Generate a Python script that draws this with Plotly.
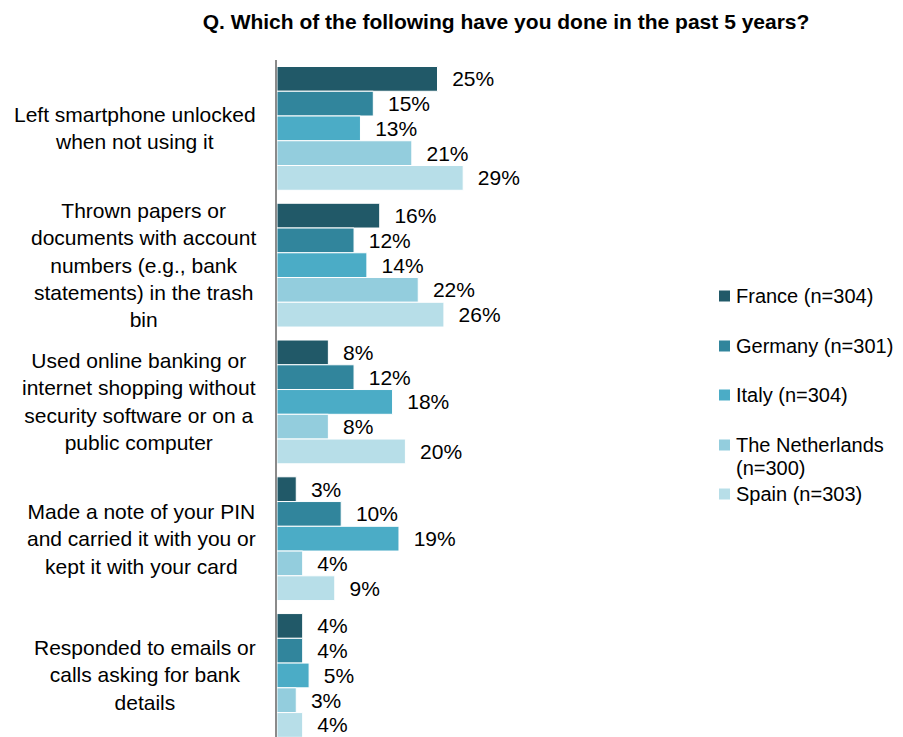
import plotly.graph_objects as go

# Survey items (y categories) and per-country shares in percent
categories = [
    "Left smartphone unlocked<br>when not using it",
    "Thrown papers or<br>documents with account<br>numbers (e.g., bank<br>statements) in the trash<br>bin",
    "Used online banking or<br>internet shopping without<br>security software or on a<br>public computer",
    "Made a note of your PIN<br>and carried it with you or<br>kept it with your card",
    "Responded to emails or<br>calls asking for bank<br>details",
]
series_names = ["France (n=304)", "Germany (n=301)", "Italy (n=304)",
                "The Netherlands (n=300)", "Spain (n=303)"]
legend_lines = [["France (n=304)"], ["Germany (n=301)"], ["Italy (n=304)"],
                ["The Netherlands", "(n=300)"], ["Spain (n=303)"]]
france = [25, 16, 8, 3, 4]
germany = [15, 12, 12, 10, 4]
italy = [13, 14, 18, 19, 5]
netherlands = [21, 22, 8, 4, 3]
spain = [29, 26, 20, 9, 4]
values = [france, germany, italy, netherlands, spain]
colors = ["#215968", "#31859C", "#4BACC6", "#93CDDD", "#B7DEE8"]

FONT = "Liberation Sans, Arial, sans-serif"
W, H = 903, 737
ML, MR, MT, MB = 277, 203, 60, 0
plot_w = W - ML - MR
plot_h = H - MT - MB

fig = go.Figure()
for name, vals, col in zip(series_names, values, colors):
    fig.add_trace(go.Bar(
        y=categories, x=vals, orientation="h", name=name,
        marker=dict(color=col, line=dict(color="white", width=1)),
        text=[f"\u00a0\u00a0{v}%" for v in vals],
        textposition="outside", constraintext="none", cliponaxis=False,
        textfont=dict(family=FONT, size=21, color="#000000"),
        showlegend=False, hoverinfo="x+name",
    ))

annotations = []
# category labels, centred lines, right edge just left of the axis
for cat in categories:
    annotations.append(dict(
        x=0, xref="paper", y=cat, yref="y", xanchor="right", yanchor="middle",
        xshift=-19, align="center", showarrow=False, text=cat,
        font=dict(family=FONT, size=21, color="#000000"),
    ))

# hand-placed legend (px positions converted to paper coordinates)
def px_to_paper_x(px):
    return (px - ML) / plot_w

def px_to_paper_y(py):
    return (H - MB - py) / plot_h

shapes = []
legend_y = [296, 346, 395, 445, 494]
for lines, col, ly in zip(legend_lines, colors, legend_y):
    shapes.append(dict(
        type="rect", xref="paper", yref="paper",
        xsizemode="pixel", ysizemode="pixel",
        xanchor=px_to_paper_x(724.5), yanchor=px_to_paper_y(ly),
        x0=-5.5, x1=5.5, y0=-5.5, y1=5.5,
        fillcolor=col, line=dict(width=0),
    ))
    for i, line in enumerate(lines):
        annotations.append(dict(
            x=px_to_paper_x(734), y=px_to_paper_y(ly + 23 * i),
            xref="paper", yref="paper", xanchor="left", yanchor="middle",
            showarrow=False, text=line,
            font=dict(family=FONT, size=20, color="#000000"),
        ))

fig.update_layout(
    width=W, height=H,
    margin=dict(l=ML, r=MR, t=MT, b=MB, pad=0),
    paper_bgcolor="white", plot_bgcolor="white",
    barmode="group", bargap=0.095, bargroupgap=0,
    title=dict(
        text="<b>Q. Which of the following have you done in the past 5 years?</b>",
        x=506 / W, xanchor="center", y=1 - 22 / H, yanchor="middle",
        xref="container", yref="container",
        font=dict(family=FONT, size=21, color="#000000"),
    ),
    xaxis=dict(range=[0, plot_w / 6.42], visible=False, fixedrange=True),
    yaxis=dict(
        categoryorder="array", categoryarray=categories,
        range=[4.45, -0.5], showticklabels=False, ticks="",
        showgrid=False, zeroline=False,
        showline=True, linecolor="#8a8a8a", linewidth=2,
    ),
    annotations=annotations, shapes=shapes,
)

fig.write_html("out.html")
